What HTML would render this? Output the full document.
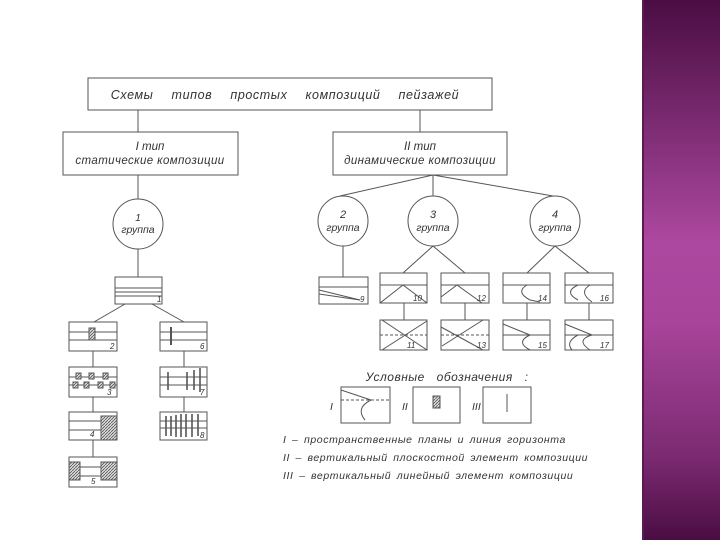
<!DOCTYPE html>
<html><head><meta charset="utf-8"><style>
html,body{margin:0;padding:0;background:#fff;}
#w{position:relative;width:720px;height:540px;overflow:hidden;background:#fff;}
#p{position:absolute;left:642px;top:0;width:78px;height:540px;
background:linear-gradient(180deg,#4a0d42 0%,#7a2a70 22%,#ad48a0 45%,#a8449a 60%,#7a2a70 85%,#4a0d42 100%);
border-left:2px solid #5a1a55;}
svg{position:absolute;left:0;top:0;}
text{font-family:"Liberation Sans",sans-serif;font-style:italic;fill:#333;}
</style></head><body><div id="w">
<svg width="720" height="540" viewBox="0 0 720 540">
<defs><pattern id="h" width="3" height="3" patternUnits="userSpaceOnUse"><rect width="3" height="3" fill="#ddd"/><path d="M0 3L3 0" stroke="#555" stroke-width="0.8"/></pattern></defs>
<g stroke="#555" stroke-width="1" fill="none">
<rect x="88" y="78" width="404" height="32"/>
<rect x="63" y="132" width="175" height="43"/>
<rect x="333" y="132" width="174" height="43"/>
<line x1="138" y1="110" x2="138" y2="132"/><line x1="420" y1="110" x2="420" y2="132"/>
<line x1="138" y1="175" x2="138" y2="199"/>
<circle cx="138" cy="224" r="25" fill="#fff"/>
<line x1="138" y1="249" x2="138" y2="277"/>
<line x1="433" y1="175" x2="340" y2="196"/><line x1="433" y1="175" x2="433" y2="197"/><line x1="433" y1="175" x2="553" y2="196"/>
<circle cx="343" cy="221" r="25" fill="#fff"/><circle cx="433" cy="221" r="25" fill="#fff"/><circle cx="555" cy="221" r="25" fill="#fff"/>
<line x1="343" y1="246" x2="343" y2="277"/>
<line x1="433" y1="246" x2="403" y2="273"/><line x1="433" y1="246" x2="465" y2="273"/>
<line x1="555" y1="246" x2="527" y2="273"/><line x1="555" y1="246" x2="589" y2="273"/>
<rect x="115" y="277" width="47" height="27"/><line x1="115" y1="288" x2="162" y2="288"/><line x1="115" y1="292" x2="162" y2="292"/><line x1="115" y1="296" x2="162" y2="296"/>
<line x1="125" y1="304" x2="94" y2="322"/><line x1="152" y1="304" x2="184" y2="322"/>
<rect x="69" y="322" width="48" height="29"/><line x1="69" y1="332" x2="117" y2="332"/><line x1="69" y1="340" x2="117" y2="340"/>
<rect x="89" y="328" width="6" height="12" fill="url(#h)"/>
<line x1="93" y1="351" x2="93" y2="367"/>
<rect x="69" y="367" width="48" height="30"/><line x1="69" y1="377" x2="117" y2="377"/><line x1="69" y1="385" x2="117" y2="385"/>
<g fill="url(#h)"><rect x="76" y="373" width="5" height="6"/><rect x="89" y="373" width="5" height="6"/><rect x="103" y="373" width="5" height="6"/><rect x="73" y="382" width="5" height="6"/><rect x="84" y="382" width="5" height="6"/><rect x="98" y="382" width="5" height="6"/><rect x="110" y="382" width="5" height="6"/></g>
<line x1="93" y1="397" x2="93" y2="412"/>
<rect x="69" y="412" width="48" height="28"/><line x1="69" y1="421" x2="117" y2="421"/><line x1="69" y1="430" x2="117" y2="430"/>
<rect x="101" y="416" width="16" height="24" fill="url(#h)"/>
<line x1="93" y1="440" x2="93" y2="457"/>
<rect x="69" y="457" width="48" height="30"/><line x1="69" y1="467" x2="117" y2="467"/><line x1="69" y1="476" x2="117" y2="476"/>
<rect x="69" y="462" width="11" height="18" fill="url(#h)"/><rect x="101" y="462" width="16" height="18" fill="url(#h)"/>
<rect x="160" y="322" width="47" height="29"/><line x1="160" y1="332" x2="207" y2="332"/><line x1="160" y1="340" x2="207" y2="340"/><line x1="171" y1="327" x2="171" y2="345" stroke-width="2"/>
<line x1="184" y1="351" x2="184" y2="367"/>
<rect x="160" y="367" width="47" height="30"/><line x1="160" y1="377" x2="207" y2="377"/><line x1="160" y1="385" x2="207" y2="385"/>
<g stroke-width="1.6"><line x1="168" y1="372" x2="168" y2="390"/><line x1="187" y1="372" x2="187" y2="390"/><line x1="194" y1="370" x2="194" y2="390"/><line x1="200" y1="368" x2="200" y2="392"/></g>
<line x1="184" y1="397" x2="184" y2="412"/>
<rect x="160" y="412" width="47" height="28"/><line x1="160" y1="421" x2="207" y2="421"/><line x1="160" y1="428" x2="207" y2="428"/>
<g stroke-width="1.6"><line x1="166" y1="416" x2="166" y2="436"/><line x1="171" y1="416" x2="171" y2="436"/><line x1="176" y1="415" x2="176" y2="437"/><line x1="181" y1="414" x2="181" y2="437"/><line x1="186" y1="414" x2="186" y2="437"/><line x1="192" y1="414" x2="192" y2="437"/><line x1="198" y1="414" x2="198" y2="436"/></g>
<rect x="319" y="277" width="49" height="27"/><line x1="319" y1="287" x2="368" y2="287"/><line x1="319" y1="290" x2="360" y2="300"/><line x1="319" y1="294" x2="360" y2="300"/>
<rect x="380" y="273" width="47" height="30"/><line x1="380" y1="285" x2="427" y2="285"/><polyline points="380,303 403,285 427,303"/>
<rect x="441" y="273" width="48" height="30"/><line x1="441" y1="285" x2="489" y2="285"/><polyline points="441,297 457,285 482,303"/>
<rect x="503" y="273" width="47" height="30"/><line x1="503" y1="285" x2="550" y2="285"/><path d="M527 285 Q515 292 530 300 L540 302"/>
<rect x="565" y="273" width="48" height="30"/><line x1="565" y1="285" x2="613" y2="285"/><path d="M578 285 Q563 292 578 300"/><path d="M590 285 Q578 292 592 302"/>
<line x1="404" y1="303" x2="404" y2="320"/><line x1="465" y1="303" x2="465" y2="320"/><line x1="527" y1="303" x2="527" y2="320"/><line x1="589" y1="303" x2="589" y2="320"/>
<rect x="380" y="320" width="47" height="30"/><line x1="380" y1="335" x2="427" y2="335" stroke-dasharray="3,2"/><line x1="382" y1="320" x2="427" y2="350"/><line x1="427" y1="321" x2="382" y2="350"/>
<rect x="441" y="320" width="48" height="30"/><line x1="441" y1="335" x2="489" y2="335" stroke-dasharray="3,2"/><line x1="441" y1="327" x2="483" y2="350"/><line x1="483" y1="320" x2="442" y2="346"/>
<rect x="503" y="320" width="47" height="30"/><line x1="503" y1="335" x2="550" y2="335"/><line x1="503" y1="324" x2="530" y2="335"/><path d="M530 335 Q515 342 530 350"/>
<rect x="565" y="320" width="48" height="30"/><line x1="565" y1="335" x2="613" y2="335"/><line x1="565" y1="324" x2="592" y2="335"/><path d="M592 335 Q575 340 590 350"/><path d="M578 335 Q565 342 572 350"/>
<rect x="341" y="387" width="49" height="36"/><line x1="341" y1="400" x2="390" y2="400" stroke-dasharray="3,2"/><line x1="341" y1="390" x2="371" y2="400"/><path d="M371 400 Q355 408 365 420"/>
<rect x="413" y="387" width="47" height="36"/><rect x="433" y="396" width="7" height="12" fill="url(#h)"/>
<rect x="483" y="387" width="48" height="36"/><line x1="507" y1="394" x2="507" y2="412"/>
</g>
<g font-size="11.5" text-anchor="middle">
<text x="285" y="99" font-size="12.5" word-spacing="14" letter-spacing="0.6">Схемы типов простых композиций пейзажей</text>
<text x="150" y="150">I тип</text><text x="150" y="164" letter-spacing="0.4">статические композиции</text>
<text x="420" y="150">II тип</text><text x="420" y="164" letter-spacing="0.4">динамические композиции</text>
<text x="138" y="221" font-size="10">1</text><text x="138" y="233" font-size="10.5">группа</text>
<text x="343" y="218" font-size="11">2</text><text x="343" y="231" font-size="10.5">группа</text>
<text x="433" y="218" font-size="11">3</text><text x="433" y="231" font-size="10.5">группа</text>
<text x="555" y="218" font-size="11">4</text><text x="555" y="231" font-size="10.5">группа</text>
<text x="447" y="381" font-size="12" word-spacing="8" letter-spacing="0.5">Условные обозначения :</text>
</g>
<g font-size="8">
<text x="157" y="302">1</text><text x="110" y="349">2</text><text x="107" y="395">3</text><text x="90" y="437">4</text><text x="91" y="484">5</text>
<text x="200" y="349">6</text><text x="200" y="395">7</text><text x="200" y="438">8</text>
<text x="360" y="302">9</text><text x="413" y="301">10</text><text x="477" y="301">12</text><text x="538" y="301">14</text><text x="600" y="301">16</text>
<text x="407" y="348">11</text><text x="477" y="348">13</text><text x="538" y="348">15</text><text x="600" y="348">17</text>
</g>
<g font-size="10.5"><text x="330" y="410">I</text><text x="402" y="410">II</text><text x="472" y="410">III</text></g>
<g font-size="10.5" letter-spacing="0.6" word-spacing="2">
<text x="283" y="443">I – пространственные планы и линия горизонта</text>
<text x="283" y="461">II – вертикальный плоскостной элемент композиции</text>
<text x="283" y="479">III – вертикальный линейный элемент композиции</text>
</g>
</svg>
<div id="p"></div>
</div></body></html>
